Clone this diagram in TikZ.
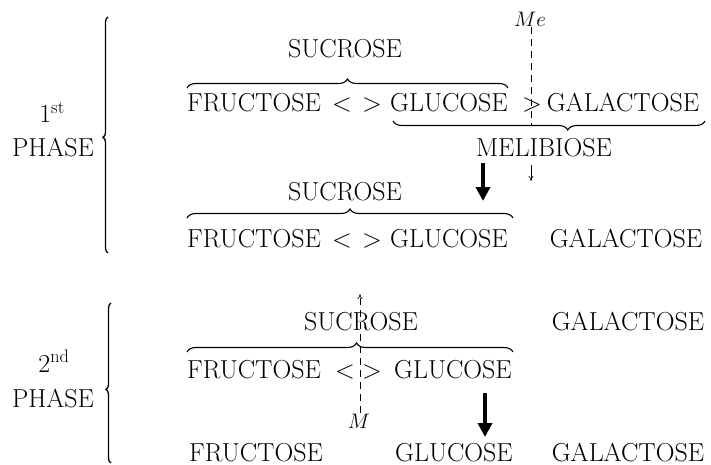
\RequirePackage{fix-cm}
\documentclass[tikz,border=0pt]{standalone}
\usetikzlibrary{decorations.pathreplacing,arrows.meta}
\begin{document}
\begin{tikzpicture}[x=1pt,y=-1pt,
  lbl/.style={anchor=base,inner sep=0pt,font=\fontsize{26}{30}\selectfont},
  ital/.style={anchor=base,inner sep=0pt,font=\fontsize{21}{24}\selectfont},
  bigbrace/.style={decorate,decoration={brace,amplitude=#1},line width=1.1pt},
  phasebrace/.style={decorate,decoration={brace,amplitude=5pt,aspect=#1},line width=1.3pt},
  dashline/.style={line width=0.6pt,dash pattern=on 7pt off 5pt},
  smallarrow/.style={line width=0.6pt,-{To[length=5pt,width=5pt]}},
  thickarrow/.style={line width=3.5pt,-{Triangle[length=14pt,width=14pt]}}]
\useasboundingbox (0,0) rectangle (711,465);

% ---------- Phase 1 ----------
\node[lbl] (p1n) at (52,123) {1\textsuperscript{st}};
\node[lbl] (p1p) at (53,157) {PHASE};
\coordinate (b1s) at (108,253);
\coordinate (b1e) at (108,17);
\draw[phasebrace=0.49] (b1s) -- (b1e);

\node[ital] (me) at (530,27) {$Me$};
\node[lbl] (suc1) at (345,58) {SUCROSE};
\coordinate (ob1s) at (187,88);
\coordinate (ob1e) at (508,88);
\draw[bigbrace=9pt] (ob1s) -- (ob1e);

\node[lbl] (fru1) at (254,112) {FRUCTOSE};
\node[lbl] (lt1) at (342,112) {$<$};
\node[lbl] (gt1) at (372,112) {$>$};
\node[lbl] (glu1) at (449,112) {GLUCOSE};
\node[lbl] (gt1b) at (532,112) {$>$};
\node[lbl] (gal1) at (623,112) {GALACTOSE};

\coordinate (ub1s) at (705,121);
\coordinate (ub1e) at (393,121);
\draw[bigbrace=9pt,decoration={aspect=0.44}] (ub1s) -- (ub1e);

\node[lbl] (mel) at (544,157) {MELIBIOSE};
\coordinate (me1) at (531,125);
\draw[dashline] (me.south -| me1) -- (me1);
\coordinate (sa1s) at (531,165);
\coordinate (sa1e) at (531,181);
\draw[smallarrow] (sa1s) -- (sa1e);

\coordinate (ta1s) at (483,163);
\coordinate (ta1e) at (483,201);
\draw[thickarrow] (ta1s) -- (ta1e);

\node[lbl] (suc2) at (345,200) {SUCROSE};
\coordinate (ob2s) at (187,218);
\coordinate (ob2e) at (513,218);
\draw[bigbrace=9pt] (ob2s) -- (ob2e);

\node[lbl] (fru2) at (254,247) {FRUCTOSE};
\node[lbl] (lt2) at (342,247) {$<$};
\node[lbl] (gt2) at (372,247) {$>$};
\node[lbl] (glu2) at (449,247) {GLUCOSE};
\node[lbl] (gal2) at (626,247) {GALACTOSE};

% ---------- Phase 2 ----------
\node[lbl] (p2n) at (54,372) {2\textsuperscript{nd}};
\node[lbl] (p2p) at (53,407) {PHASE};
\coordinate (b2s) at (111,463);
\coordinate (b2e) at (111,303);
\draw[phasebrace=0.46] (b2s) -- (b2e);

\node[lbl] (suc3) at (361,330) {SUCROSE};
\node[lbl] (gal3) at (628,330) {GALACTOSE};
\coordinate (ob3s) at (187,352);
\coordinate (ob3e) at (513,352);
\draw[bigbrace=9pt,decoration={aspect=0.52}] (ob3s) -- (ob3e);

\node[lbl] (fru3) at (254,378) {FRUCTOSE};
\node[lbl] (lt3) at (345,378) {$<$};
\node[lbl] (gt3) at (372,378) {$>$};
\node[lbl] (glu3) at (453,378) {GLUCOSE};

\node[ital] (m) at (359,428) {$M$};
\coordinate (ma) at (360,294);
\draw[dashline,smallarrow,dash pattern=on 7pt off 5pt] (m.north -| ma) -- (ma);

\coordinate (ta2s) at (485,393);
\coordinate (ta2e) at (485,437);
\draw[thickarrow] (ta2s) -- (ta2e);

\node[lbl] (fru4) at (256,461) {FRUCTOSE};
\node[lbl] (glu4) at (454,461) {GLUCOSE};
\node[lbl] (gal4) at (628,461) {GALACTOSE};
\end{tikzpicture}
\end{document}
